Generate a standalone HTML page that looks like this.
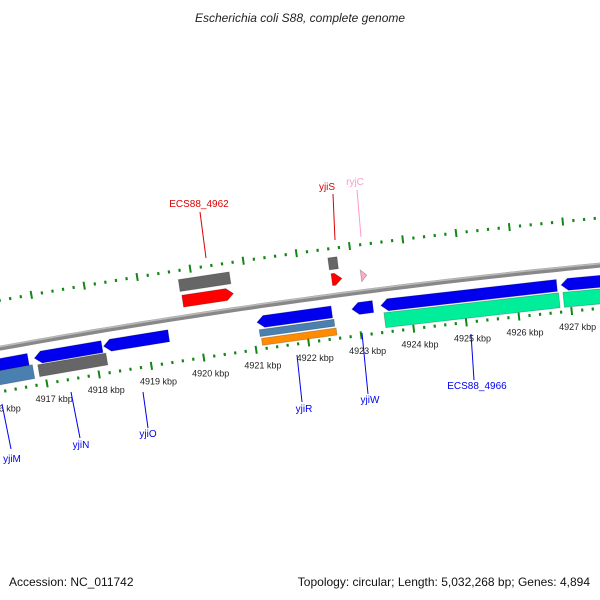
<!DOCTYPE html>
<html><head><meta charset="utf-8"><style>
html,body{margin:0;padding:0;background:#fff;}
svg{display:block;font-family:"Liberation Sans","DejaVu Sans",sans-serif;}
</style></head><body>
<svg id="c" width="600" height="600" viewBox="0 0 600 600">
<defs>
<linearGradient id="bb" x1="0" y1="0" x2="0" y2="1"><stop offset="0" stop-color="#bbb"/><stop offset="0.5" stop-color="#8a8a8a"/><stop offset="1" stop-color="#666"/></linearGradient>
</defs>
<text x="300" y="22" text-anchor="middle" font-size="12" font-style="italic" fill="#222">Escherichia coli S88, complete genome</text>
<g id="ticks"></g><g id="feat"></g><g id="lbl"></g>
<text x="9" y="586" font-size="12" fill="#111">Accession: NC_011742</text>
<text x="590" y="586" text-anchor="end" font-size="12" fill="#111">Topology: circular; Length: 5,032,268 bp; Genes: 4,894</text>
</svg>
<script>
const kbpTicks=[4914,4915,4916,4917,4918,4919,4920,4921,4922,4923,4924,4925,4926,4927,4928,4929];
const geneNames=["ECS88_4962","yjiS","ryjC","g1","g2","b0","yjiN","yjiO","yjiR","yjiW","ECS88_4966","b7","s0","g3","s1","gr0","gr1","o0"];
const geneStart=[4919.77,4922.59,4923.14,4919.75,4922.57,4915.5,4916.85,4918.17,4921.09,4922.89,4923.44,4926.85,4915.5,4916.89,4921.11,4923.48,4926.87,4921.13];
const geneEnd=[4920.73,4922.78,4923.25,4920.71,4922.74,4916.73,4918.14,4919.41,4922.51,4923.29,4926.77,4928.6,4916.79,4918.19,4922.53,4926.79,4928.6,4922.55];
const geneStrand=[1,1,1,0,0,-1,-1,-1,-1,-1,-1,-1,0,0,0,0,0,0];
const geneTrack=[16,16,16,32,32,-16,-16,-16,-16,-16,-16,-16,-29,-29,-27,-31,-31,-36];
const geneWidth=[12,12,12,12,12,12,12,12,12,12,12,12,14,12,7,15,15,7];
const geneColor=["#ff0000","#ff0000","#ffaacc","#666666","#666666","#0000ee","#0000ee","#0000ee","#0000ee","#0000ee","#0000ee","#0000ee","#4a80b0","#666666","#4a80b0","#00ee99","#00ee99","#ff8c00"];
const CX=1276,CY=7359,R=7126,A0=-1.7078,K=0.00748;
const NS="http://www.w3.org/2000/svg";
function P(kbp,off){const a=A0+(kbp-4922)*K;const r=R+off;return [CX+r*Math.cos(a),CY+r*Math.sin(a)];}
function mk(tag,attrs,parent){const e=document.createElementNS(NS,tag);for(const k in attrs)e.setAttribute(k,attrs[k]);parent.appendChild(e);return e;}
const tg=document.getElementById('ticks'),fg=document.getElementById('feat'),lg=document.getElementById('lbl');
// backbone
let d="";for(let k=4914;k<=4930;k+=0.25){const p=P(k,0);d+=(d?"L":"M")+p[0].toFixed(1)+","+p[1].toFixed(1);}
const bb=mk('path',{d:d,stroke:"#888",'stroke-width':5,fill:"none"},fg);


const bb2=mk('path',{d:d,stroke:"#bbb",'stroke-width':1.5,fill:"none",transform:"translate(0,-1.5)"},fg);


// dotted tick rings
[47,-43].forEach(function(off){
 for(let i=0;i<=80;i++){const k=4914+i*0.2;const big=(i%5===0);const h=big?4:1.5;
  const a=P(k,off-h),b=P(k,off+h);
  const t=mk('line',{x1:a[0],y1:a[1],x2:b[0],y2:b[1],stroke:"#118811",'stroke-width':big?2:2.2},tg);
  
  }
});
kbpTicks.forEach(function(k){const p=P(k,-62);
 const t=mk('text',{x:(p[0]+4).toFixed(1),y:p[1].toFixed(1),'text-anchor':'middle','font-size':9,fill:"#222"},lg);
 t.textContent=k+" kbp";
 
 });
// genes
geneNames.forEach(function(n,i){
 const s=geneStart[i],e=geneEnd[i],st=geneStrand[i],off=geneTrack[i],w=geneWidth[i]/2;const hl=0.13;
 let pts=[];
 if(st===1){const m=Math.max(s,e-hl);pts=[P(s,off-w),P(m,off-w),P(e,off),P(m,off+w),P(s,off+w)];}
 else if(st===-1){const m=Math.min(e,s+hl);pts=[P(s,off),P(m,off-w),P(e,off-w),P(e,off+w),P(m,off+w)];}
 else pts=[P(s,off-w),P(e,off-w),P(e,off+w),P(s,off+w)];
 const g=mk('polygon',{points:pts.map(p=>p[0].toFixed(1)+","+p[1].toFixed(1)).join(" "),fill:geneColor[i],stroke:"rgba(0,0,0,0.25)",'stroke-width':0.8},fg);
 
 
});
// gene labels
const labs=[["ECS88_4962","#dd0000",199,207,200,212,206,258],["yjiS","#dd0000",327,190,333,194,335,240],["ryjC","#ff99cc",355,185,357,190,361,237],
["yjiM","#0000ee",12,462,2,404,11,449],["yjiN","#0000ee",81,448,71,392,80,438],["yjiO","#0000ee",148,437,143,392,148,428],
["yjiR","#0000ee",304,412,297,355,302,402],["yjiW","#0000ee",370,403,362,333,368,394],["ECS88_4966","#0000ee",477,389,471,334,474,380]];
labs.forEach(function(L){
 const ln=mk('line',{x1:L[4],y1:L[5],x2:L[6],y2:L[7],stroke:L[1],'stroke-width':1},lg);
 
 
 const t=mk('text',{x:L[2],y:L[3],'text-anchor':'middle','font-size':10,fill:L[1]},lg);
 t.textContent=L[0];
 
 
});
</script>
</body></html>
